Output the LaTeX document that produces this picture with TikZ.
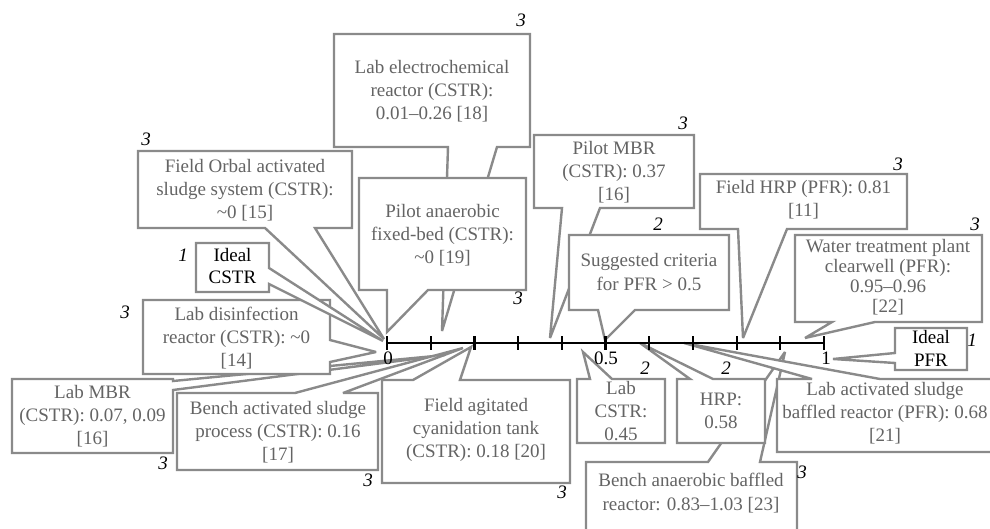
\documentclass[tikz,border=0pt]{standalone}
\usepackage{fontspec}
\setmainfont{Liberation Serif}
\usetikzlibrary{calc}
\definecolor{boxgray}{RGB}{138,138,138}
\definecolor{txtgray}{RGB}{100,100,100}
\tikzset{
  cbox/.style={draw=boxgray, line width=2.4pt, fill=white, line join=miter, miter limit=4},
  ctext/.style={text=txtgray, align=center, inner sep=0pt, font=\fontsize{19}{23.3}\selectfont},
  ktext/.style={ctext, text=black},
  tag/.style={inner sep=0pt, text=black, font=\fontsize{19}{23}\selectfont\itshape},
  axisline/.style={line width=2.2pt, black},
  ticklab/.style={inner sep=0pt, text=black, font=\fontsize{19}{23}\selectfont},
}
\begin{document}
\begin{tikzpicture}[x=1pt,y=-1pt]
\useasboundingbox (0,0) rectangle (990,529);
\clip (0,0) rectangle (990,529);

% tips on the axis
\coordinate (tO) at (384,339);
\coordinate (tIC) at (383,341);
\coordinate (tLD) at (376,352);
\coordinate (tLM) at (445,355);
\coordinate (tBA) at (463,348);
\coordinate (tE) at (442,331);
\coordinate (tPA) at (387,332);
\coordinate (tFA) at (471,347);
\coordinate (tPM) at (550,338);
\coordinate (tS) at (605,340);
\coordinate (tLC) at (583,352);
\coordinate (tBN) at (785,352);
\coordinate (tH) at (640,343);
\coordinate (tLA) at (684,343);
\coordinate (tFH) at (743,338);
\coordinate (tW) at (805,338);
\coordinate (tIP) at (833,359);

% Lab MBR
\draw[cbox] (12,379) -- (173,379) -- (173,381) -- (tLM) -- (173,390) -- (173,453) -- (12,453) -- cycle;
\node[ctext] (nLM) at (92.5,416) {Lab MBR\\(CSTR): 0.07, 0.09\\{[16]}};
% Bench activated sludge
\draw[cbox] (177,393) -- (295,393) -- (tBA) -- (343,393) -- (378,393) -- (378,470) -- (177,470) -- cycle;
\node[ctext] (nBA) at (278,432) {Bench activated sludge\\process (CSTR): 0.16\\{[17]}};
% Lab disinfection
\draw[cbox] (143,300) -- (330,300) -- (330,340) -- (tLD) -- (330,362) -- (330,374) -- (143,374) -- cycle;
\node[ctext] (nLD) at (236.5,338) {Lab disinfection\\reactor (CSTR): \textasciitilde 0\\{[14]}};
% Field Orbal
\draw[cbox] (138,151) -- (352,151) -- (352,228) -- (315,228) -- (tO) -- (265,228) -- (138,228) -- cycle;
\node[ctext] (nO) at (245,190) {Field Orbal activated\\sludge system (CSTR):\\\textasciitilde 0 [15]};
% Ideal CSTR
\draw[cbox] (196,243) -- (269,243) -- (269,268) -- (tIC) -- (269,284) -- (269,292) -- (196,292) -- cycle;
\node[ktext, font=\fontsize{19}{22}\selectfont] (nIC) at (232.5,266.5) {Ideal\\CSTR};
% Lab electrochemical
\draw[cbox] (334,34) -- (530,34) -- (530,147) -- (497,147) -- (tE) -- (448,147) -- (334,147) -- cycle;
\node[ctext] (nE) at (432,91) {Lab electrochemical\\reactor (CSTR):\\0.01--0.26 [18]};
% Pilot anaerobic
\draw[cbox] (359,178) -- (526,178) -- (526,290) -- (428,290) -- (tPA) -- (387,290) -- (359,290) -- cycle;
\node[ctext] (nPA) at (442.5,235) {Pilot anaerobic\\fixed-bed (CSTR):\\\textasciitilde 0 [19]};
% Field agitated
\draw[cbox] (382,380) -- (413,380) -- (tFA) -- (460,380) -- (570,380) -- (570,483) -- (382,483) -- cycle;
\node[ctext] (nFA) at (476,430) {Field agitated\\cyanidation tank\\(CSTR): 0.18 [20]};
% Pilot MBR
\draw[cbox] (534,135) -- (694,135) -- (694,208) -- (600,208) -- (tPM) -- (562,208) -- (534,208) -- cycle;
\node[ctext] (nPM) at (614,172) {Pilot MBR\\(CSTR): 0.37\\{[16]}};
% Suggested criteria
\draw[cbox] (569,235) -- (729,235) -- (729,310) -- (635,310) -- (tS) -- (598,310) -- (569,310) -- cycle;
\node[ctext] (nS) at (649,272) {Suggested criteria\\for PFR > 0.5};
% Lab CSTR
\draw[cbox] (577,379) -- (590,379) -- (tLC) -- (612,379) -- (665,379) -- (665,443) -- (577,443) -- cycle;
\node[ctext] (nLC) at (621,411) {Lab\\CSTR:\\0.45};
% Bench anaerobic baffled
\draw[cbox] (586,462) -- (708,462) -- (tBN) -- (760,462) -- (797,462) -- (797,545) -- (586,545) -- cycle;
\node[ctext] (nBN) at (691,493) {Bench anaerobic baffled\\reactor: 0.83--1.03 [23]};
% HRP
\draw[cbox] (677,379) -- (690,379) -- (tH) -- (713,379) -- (765,379) -- (765,443) -- (677,443) -- cycle;
\node[ctext] (nH) at (721,411) {HRP:\\0.58};
% Lab activated sludge baffled
\draw[cbox] (777,379) -- (812,379) -- (tLA) -- (880,379) -- (1003,379) -- (1003,452) -- (777,452) -- cycle;
\node[ctext] (nLA) at (885,413) {Lab activated sludge\\baffled reactor (PFR): 0.68\\{[21]}};
% Field HRP
\draw[cbox] (700,174) -- (907,174) -- (907,229) -- (787,229) -- (tFH) -- (738,229) -- (700,229) -- cycle;
\node[ctext] (nFH) at (803.5,200) {Field HRP (PFR): 0.81\\{[11]}};
% Water treatment plant
\draw[cbox] (795,235) -- (982,235) -- (982,322) -- (875,322) -- (tW) -- (832,322) -- (795,322) -- cycle;
\node[ctext, font=\fontsize{19}{20}\selectfont] (nW) at (888,277) {Water treatment plant\\clearwell (PFR):\\0.95--0.96\\{[22]}};
% Ideal PFR
\draw[cbox] (895,328) -- (967,328) -- (967,370) -- (895,370) -- (895,363) -- (tIP) -- (895,353) -- cycle;
\node[ktext] (nIP) at (931,348.5) {Ideal\\PFR};

% axis
\coordinate (a0) at (387,343);
\coordinate (a1) at (824,343);
\draw[axisline] (a0) -- (a1);
\foreach \i in {0,...,10} {
  \draw[axisline] ($(a0)!\i/10!(a1)+(0,-7)$) -- ($(a0)!\i/10!(a1)+(0,7)$);
}
\node[ticklab] (l0) at (388,358) {0};
\node[ticklab] (l05) at (606,358) {0.5};
\node[ticklab] (l1) at (826,358) {1};

% group tags
\node[tag] (g1) at (521,20) {3};
\node[tag] (g2) at (518,298) {3};
\node[tag] (g3) at (146,139) {3};
\node[tag] (g4) at (183,255) {1};
\node[tag] (g5) at (125,312) {3};
\node[tag] (g6) at (163,463) {3};
\node[tag] (g7) at (368,480) {3};
\node[tag] (g8) at (562,492) {3};
\node[tag] (g9) at (683,123) {3};
\node[tag] (g10) at (658,224) {2};
\node[tag] (g11) at (645,368) {2};
\node[tag] (g12) at (726,368) {2};
\node[tag] (g13) at (898,164) {3};
\node[tag] (g14) at (975,224) {3};
\node[tag] (g15) at (972,340) {1};
\node[tag] (g16) at (802,472) {3};
\end{tikzpicture}
\end{document}
